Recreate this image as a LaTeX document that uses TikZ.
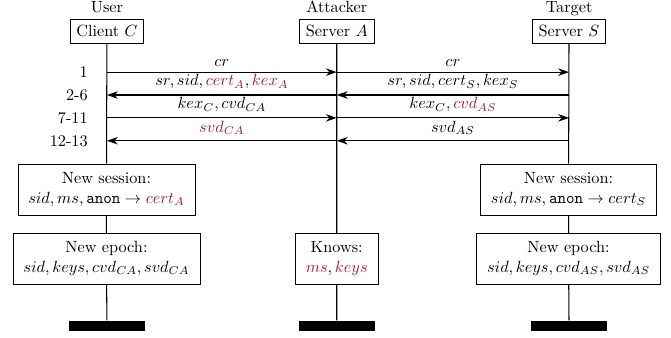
\documentclass[tikz,border=0pt]{standalone}
\usepackage{amsmath,amssymb}
\usetikzlibrary{arrows.meta,positioning,calc}
\definecolor{attack}{RGB}{160,30,45}
\newcommand{\atk}[1]{\textcolor{attack}{#1}}
\tikzset{
    party/.style={draw, fill=white, scale=0.93, inner xsep=3.8pt, inner ysep=3.6pt},
    role/.style={anchor=base, inner sep=0pt, scale=0.93},
    state/.style={draw, fill=white, align=center, scale=0.93, inner xsep=6.4pt, inner ysep=4pt, minimum height=1.1cm},
    msg/.style={-{Stealth[length=2.2mm, width=1.5mm]}, semithick},
    msglabel/.style={above, scale=0.93},
    lifeline/.style={semithick},
    endbar/.style={fill=black, minimum width=1.53cm, minimum height=0.2cm, inner sep=0pt},
    stepnum/.style={anchor=east, inner sep=0pt, scale=0.93}
}

\begin{document}
\begin{tikzpicture}
        \useasboundingbox (0,0) rectangle (13.49,-6.79);
        \node[party] (client) at (2.15,-0.63) {Client $C$};
        \node[party] (attacker) at (6.77,-0.63) {Server $A$};
        \node[party] (server) at (11.44,-0.63) {Server $S$};
        \node[role] (user) at (2.15,-0.26) {User};
        \node[role] (attk) at (6.77,-0.26) {Attacker};
        \node[role] (target) at (11.44,-0.26) {Target};

        \node[stepnum] (n1) at (1.77,-1.45) {1};
        \node[stepnum] (n2) at (1.77,-1.91) {2-6};
        \node[stepnum] (n3) at (1.77,-2.37) {7-11};
        \node[stepnum] (n4) at (1.77,-2.83) {12-13};

        \node[state] (sessC) at (2.14,-3.81) {New session:\\$sid, ms, \mathtt{anon} \rightarrow \atk{cert_A}$};
        \node[state] (sessS) at (11.43,-3.81) {New session:\\$sid, ms, \mathtt{anon} \rightarrow cert_S$};
        \node[state] (epochC) at (2.14,-5.2) {New epoch:\\$sid, keys, cvd_{CA}, svd_{CA}$};
        \node[state] (knows) at (6.77,-5.2) {Knows:\\$\atk{ms}, \atk{keys}$};
        \node[state] (epochS) at (11.43,-5.2) {New epoch:\\$sid, keys, cvd_{AS}, svd_{AS}$};

        \node[endbar] (endC) at (2.15,-6.55) {};
        \node[endbar] (endA) at (6.77,-6.55) {};
        \node[endbar] (endS) at (11.44,-6.55) {};

        % lifelines
        \draw[lifeline] (client) -- (sessC) -- (epochC) -- (endC);
        \draw[lifeline] (attacker) -- (knows) -- (endA);
        \draw[lifeline] (server) -- (sessS) -- (epochS) -- (endS);

        % messages
        \draw[msg] (n1 -| client) -- (n1 -| attacker) node[midway, msglabel] {$cr$};
        \draw[msg] (n1 -| attacker) -- (n1 -| server) node[midway, msglabel] {$cr$};
        \draw[msg] (n2 -| attacker) -- (n2 -| client) node[midway, msglabel] {$sr, sid, \atk{cert_A}, \atk{kex_A}$};
        \draw[msg] (n2 -| server) -- (n2 -| attacker) node[midway, msglabel] {$sr, sid, cert_S, kex_S$};
        \draw[msg] (n3 -| client) -- (n3 -| attacker) node[midway, msglabel] {$kex_C, cvd_{CA}$};
        \draw[msg] (n3 -| attacker) -- (n3 -| server) node[midway, msglabel] {$kex_C, \atk{cvd_{AS}}$};
        \draw[msg] (n4 -| attacker) -- (n4 -| client) node[midway, msglabel] {$\atk{svd_{CA}}$};
        \draw[msg] (n4 -| server) -- (n4 -| attacker) node[midway, msglabel] {$svd_{AS}$};
    \end{tikzpicture}
\end{document}
